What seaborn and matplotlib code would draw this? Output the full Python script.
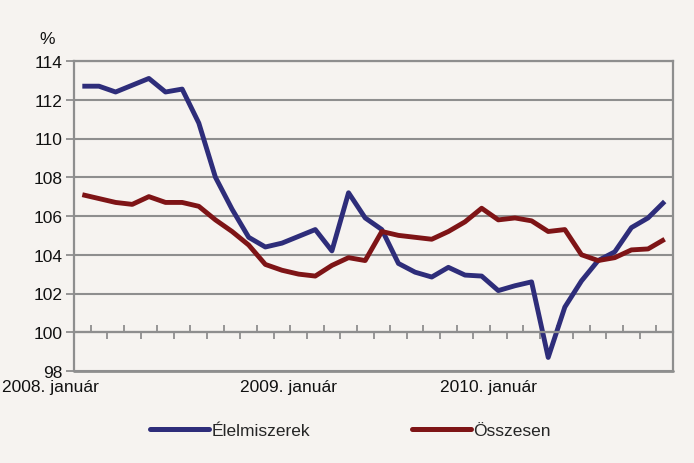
import matplotlib
matplotlib.use("Agg")
import matplotlib.pyplot as plt
import matplotlib.transforms as mtransforms
from matplotlib.lines import Line2D
import seaborn as sns
import numpy as np
import pandas as pd

# monthly data, 2008 Jan - 2010 Dec
months = pd.date_range("2008-01-01", periods=36, freq="MS")
elelmiszerek = [112.7, 112.7, 112.4, 112.75, 113.1, 112.4, 112.55, 110.8, 108.0, 106.35,
                104.9, 104.4, 104.6, 104.95, 105.3, 104.2, 107.2, 105.9, 105.3, 103.55,
                103.1, 102.85, 103.35, 102.95, 102.9, 102.15, 102.4, 102.6, 98.7, 101.3,
                102.65, 103.7, 104.15, 105.4, 105.9, 106.75]
osszesen = [107.1, 106.9, 106.7, 106.6, 107.0, 106.7, 106.7, 106.5, 105.8, 105.2,
            104.5, 103.5, 103.2, 103.0, 102.9, 103.45, 103.85, 103.7, 105.2, 105.0,
            104.9, 104.8, 105.2, 105.7, 106.4, 105.8, 105.9, 105.75, 105.2, 105.3,
            104.0, 103.7, 103.85, 104.25, 104.3, 104.8]
series_names = ["Élelmiszerek", "Összesen"]
colors = ["#2E2D7A", "#7E1416"]
year_labels = ["2008. január", "2009. január", "2010. január"]
y_ticks = np.arange(98, 115, 2)

bg = "#F6F3F0"
grid_c = "#8E8E8E"

df = pd.DataFrame({"month": months, series_names[0]: elelmiszerek, series_names[1]: osszesen})
df["pos"] = np.arange(len(df)) + 0.5
long = df.melt(id_vars=["month", "pos"], value_vars=series_names, var_name="series", value_name="value")

sns.set_theme(style="white")
plt.rcParams["font.family"] = ["Liberation Sans", "DejaVu Sans"]

fig = plt.figure(figsize=(6.94, 4.64), dpi=100, facecolor=bg)
ax = fig.add_axes([74 / 694, 1 - 372 / 464, 599 / 694, 310 / 464])
ax.set_facecolor(bg)

sns.lineplot(data=long, x="pos", y="value", hue="series", palette=colors,
             linewidth=3.5, ax=ax, legend=False)
for ln in ax.lines:
    ln.set_solid_joinstyle("round")
    ln.set_solid_capstyle("butt")

ax.set_xlim(0, 36)
ax.set_ylim(98, 114)
ax.set_yticks(y_ticks)
ax.set_yticklabels([str(v) for v in y_ticks], fontsize=12.5, color="#111111")
ax.yaxis.grid(True, color=grid_c, linewidth=1.5)
ax.set_axisbelow(True)
ax.set_xlabel("")
ax.set_ylabel("")

# category axis crosses at 100, ticks alternate up / down
ax.spines["bottom"].set_position(("data", 100))
for s in ["left", "right", "top", "bottom"]:
    ax.spines[s].set_color(grid_c)
    ax.spines[s].set_linewidth(1.6)
ax.axhline(98, color=grid_c, linewidth=2, clip_on=False)
ax.set_xticks(np.arange(1, 36, 2))
ax.set_xticks(np.arange(0, 37, 2), minor=True)
ax.set_xticklabels([])
ax.tick_params(axis="x", which="both", bottom=True)
ax.tick_params(axis="x", which="major", direction="in", length=5, width=1.3, color=grid_c)
ax.tick_params(axis="x", which="minor", direction="out", length=5, width=1.3, color=grid_c)
ax.tick_params(axis="y", which="major", direction="out", length=6, width=1.3, color=grid_c,
               left=True, pad=2)

trans = mtransforms.blended_transform_factory(ax.transData, ax.transAxes)
ax.text(-0.12, -0.05, year_labels[0], transform=ax.transAxes, ha="left", va="center", fontsize=12.5, color="#111111")
ax.text(12.9, -0.05, year_labels[1], transform=trans, ha="center", va="center", fontsize=12.5, color="#111111")
ax.text(24.9, -0.05, year_labels[2], transform=trans, ha="center", va="center", fontsize=12.5, color="#111111")
fig.text(47 / 694, 1 - 40 / 464, "%", ha="center", va="center", fontsize=12.5, color="#111111")

handles = [Line2D([], [], color=c, linewidth=3.6) for c in colors]
fig.legend(handles, series_names, loc="center", bbox_to_anchor=(0.505, 1 - 431 / 464), ncol=2,
           frameon=False, fontsize=12.5, handlelength=3.4, handletextpad=0.1, columnspacing=5.9)

fig.savefig("out.png", dpi=100, facecolor=bg)
